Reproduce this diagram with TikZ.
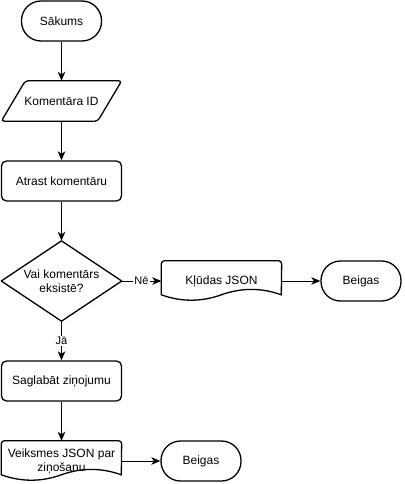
\documentclass[tikz,border=0pt]{standalone}
\usepackage{fontspec}
\setmainfont{Liberation Sans}
\usetikzlibrary{arrows.meta,calc}
\begin{document}
\begin{tikzpicture}[x=1pt,y=-1pt,
  shapeline/.style={line width=1.3pt},
  txt/.style={font=\fontsize{12}{14}\selectfont, align=center},
  term/.style={txt, draw, shapeline, rounded corners=19.5pt, minimum width=80pt, minimum height=40pt, inner sep=0pt},
  proc/.style={txt, draw, shapeline, rounded corners=5pt, minimum width=120pt, minimum height=40pt, inner sep=0pt},
  blank/.style={txt, minimum width=120pt, minimum height=40pt, inner sep=0pt},
  conn/.style={line width=1pt, -{Stealth[length=9pt,width=7.5pt,inset=2.5pt]}},
  elabel/.style={fill=white, font=\fontsize{11}{13}\selectfont, inner sep=1pt}
]
\useasboundingbox (0,0) rectangle (404,484);

\node[term] (start) at (61.5,21) {Sākums};

\node[blank] (inp) at (61.5,101) {Komentāra ID};
\draw[shapeline, rounded corners=3pt] ($(inp.north west)+(24,0)$) -- (inp.north east) -- ($(inp.south east)-(24,0)$) -- (inp.south west) -- cycle;

\node[proc] (find) at (61.5,181) {Atrast komentāru};

\node[blank, minimum height=80pt] (dec) at (61.5,281) {Vai komentārs\\eksistē?};
\draw[shapeline, line join=round] (dec.north) -- (dec.east) -- (dec.south) -- (dec.west) -- cycle;

\node[blank] (err) at (221.5,281) {Kļūdas JSON};
\draw[shapeline] ($(err.north west)+(0,34)$) [rounded corners=3pt] -- (err.north west) -- (err.north east) [sharp corners] -- ($(err.north west)+(120,34)$)
  .. controls ($(err.north west)+(100,26.8)$) and ($(err.north west)+(80,26.8)$) .. ($(err.north west)+(60,34)$)
  .. controls ($(err.north west)+(40,41.2)$) and ($(err.north west)+(20,41.2)$) .. cycle;

\node[term] (end1) at (361,281) {Beigas};

\node[proc] (save) at (61.5,381) {Saglabāt ziņojumu};

\node[blank] (ok) at (61.5,461) {Veiksmes JSON par\\ziņošanu};
\draw[shapeline] ($(ok.north west)+(0,34)$) [rounded corners=3pt] -- (ok.north west) -- (ok.north east) [sharp corners] -- ($(ok.north west)+(120,34)$)
  .. controls ($(ok.north west)+(100,26.8)$) and ($(ok.north west)+(80,26.8)$) .. ($(ok.north west)+(60,34)$)
  .. controls ($(ok.north west)+(40,41.2)$) and ($(ok.north west)+(20,41.2)$) .. cycle;

\node[term] (end2) at (201,461) {Beigas};

\draw[conn] (start.south) -- (inp.north);
\draw[conn] (inp.south) -- (find.north);
\draw[conn] (find.south) -- (dec.north);
\draw[conn] (dec.east) -- node[elabel] {Nē} (err.west);
\draw[conn] (err.east) -- (end1.west);
\draw[conn] (dec.south) -- node[elabel] {Jā} (save.north);
\draw[conn] (save.south) -- (ok.north);
\draw[conn] (ok.east) -- (end2.west);
\end{tikzpicture}
\end{document}
